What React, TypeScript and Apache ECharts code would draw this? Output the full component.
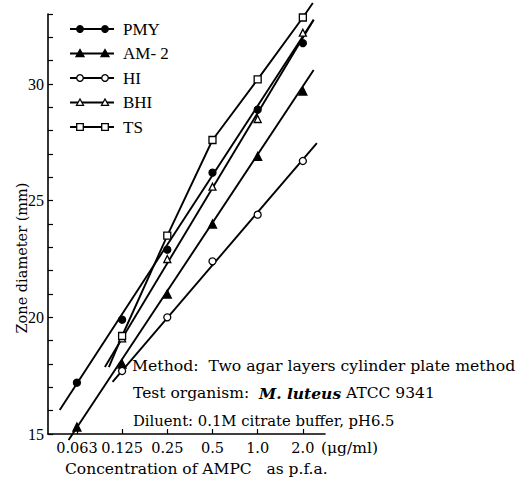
import React, { useEffect, useRef } from "react";
import * as echarts from "echarts";

// ---- data ----
const concentrations = [0.0625, 0.125, 0.25, 0.5, 1, 2];
const tickLabels = ["0.063", "0.125", "0.25", "0.5", "1.0", "2.0"];
const seriesNames = ["PMY", "AM- 2", "HI", "BHI", "TS"];

const pmyValues = [17.2, 19.9, 22.9, 26.2, 28.9, 31.75];
const am2Values = [15.3, 18.0, 21.0, 24.0, 26.9, 29.7];
const hiValues = [null, 17.7, 20.0, 22.4, 24.4, 26.7];
const bhiValues = [null, 19.1, 22.5, 25.6, 28.5, 32.2];
const tsValues = [null, 19.2, 23.5, 27.6, 30.2, 32.85];

// fitted lines: [concentration, zone diameter] end points
const pmyLine = [[0.048, 16.03], [2.36, 32.75]];
const am2Line = [[0.055, 14.74], [2.36, 30.6]];
const hiLine = [[0.108, 17.23], [2.48, 27.47]];
const bhiLine = [[0.096, 17.87], [2.36, 32.75]];
const tsLineEnds = [[0.102, 17.87], [2.33, 33.47]];

const yTickLabels = [15, 20, 25, 30];

// ---- helpers ----
const FONT = "DejaVu Serif";
const lx = (c: number) => Math.log2(c);
const toXY = (pairs: number[][]) => pairs.map(([c, v]) => [lx(c), v]);
const pts = (vals: (number | null)[]) =>
  concentrations
    .map((c, i) => (vals[i] == null ? null : [lx(c), vals[i] as number]))
    .filter((p) => p !== null) as number[][];

const tsLine = [
  [lx(tsLineEnds[0][0]), tsLineEnds[0][1]],
  ...pts(tsValues),
  [lx(tsLineEnds[1][0]), tsLineEnds[1][1]],
];

const styles = [
  { symbol: "circle", size: 7, fill: "#000" },
  { symbol: "triangle", size: 8, fill: "#000" },
  { symbol: "circle", size: 7, fill: "#fff" },
  { symbol: "triangle", size: 7, fill: "#fff" },
  { symbol: "rect", size: 7, fill: "#fff" },
];
const pointSets = [pts(pmyValues), pts(am2Values), pts(hiValues), pts(bhiValues), pts(tsValues)];
const lineSets = [toXY(pmyLine), toXY(am2Line), toXY(hiLine), toXY(bhiLine), tsLine];

function buildOption() {
  const series: any[] = [];
  lineSets.forEach((d, i) => {
    series.push({
      name: seriesNames[i] + " line",
      type: "line",
      data: d,
      showSymbol: false,
      clip: false,
      silent: true,
      lineStyle: { color: "#000", width: 1.9 },
      z: 2,
    });
  });
  pointSets.forEach((d, i) => {
    const s = styles[i];
    series.push({
      name: seriesNames[i],
      type: "scatter",
      data: d,
      symbol: s.symbol,
      symbolSize: s.size,
      itemStyle: { color: s.fill, borderColor: "#000", borderWidth: 1.3, opacity: 1 },
      z: 3,
    });
  });

  // custom legend drawn with graphic elements
  const legendGraphics: any[] = [];
  seriesNames.forEach((name, i) => {
    const y = 29 + i * 24.5;
    const s = styles[i];
    legendGraphics.push({
      type: "line",
      shape: { x1: 70, y1: y, x2: 114, y2: y },
      style: { stroke: "#000", lineWidth: 2 },
    });
    [80, 105].forEach((cx) => {
      const st = { fill: s.fill, stroke: "#000", lineWidth: 1.3 };
      if (s.symbol === "circle") {
        legendGraphics.push({ type: "circle", shape: { cx, cy: y, r: 3.3 }, style: st });
      } else if (s.symbol === "triangle") {
        const h = s.size / 2;
        legendGraphics.push({
          type: "polygon",
          shape: { points: [[cx, y - h], [cx + h, y + h * 0.8], [cx - h, y + h * 0.8]] },
          style: st,
        });
      } else {
        legendGraphics.push({ type: "rect", shape: { x: cx - 3.3, y: y - 3.3, width: 6.6, height: 6.6 }, style: st });
      }
    });
    legendGraphics.push({
      type: "text",
      x: 123,
      y,
      style: { text: name, font: `17px "Liberation Serif"`, fill: "#000", verticalAlign: "middle", align: "left" },
    });
  });

  const textStyle = (text: string, x: number, y: number, size: number, extra: any = {}) => ({
    type: "text",
    x,
    y,
    style: {
      text,
      fontFamily: FONT,
      fontSize: size,
      fill: "#000",
      verticalAlign: "middle",
      align: "left",
      ...extra,
    },
  });

  const graphic = [
    ...legendGraphics,
    {
      type: "text",
      x: 22,
      y: 258,
      rotation: Math.PI / 2,
      style: {
        text: "Zone diameter (mm)",
        fontFamily: FONT,
        fontSize: 14.5,
        fill: "#000",
        align: "center",
        verticalAlign: "middle",
      },
    },
    textStyle("(μg/ml)", 321, 448, 15.5),
    textStyle("Concentration of AMPC   as p.f.a.", 65, 469, 15.5),
    textStyle("Method:  Two agar layers cylinder plate method", 132, 365, 15.7),
    {
      type: "text",
      x: 133,
      y: 393,
      style: {
        text: "Test organism:  {i|M. luteus} ATCC 9341",
        fontFamily: FONT,
        fontSize: 15.5,
        fill: "#000",
        verticalAlign: "middle",
        align: "left",
        rich: {
          i: { fontFamily: FONT, fontSize: 15.5, fontStyle: "italic", fontWeight: "bold", fill: "#000" },
        },
      },
    },
    textStyle("Diluent: 0.1M citrate buffer, pH6.5", 133, 420, 14.8),
  ];

  return {
    animation: false,
    backgroundColor: "#fff",
    grid: { left: 48, top: 14, right: 199, bottom: 47, containLabel: false },
    xAxis: {
      type: "value",
      min: lx(concentrations[0]) - 0.64,
      max: lx(concentrations[concentrations.length - 1]) + 0.49,
      splitLine: { show: false },
      axisLine: { show: true, onZero: false, lineStyle: { color: "#000", width: 1.6 } },
      axisTick: {
        show: true,
        inside: true,
        length: 5,
        lineStyle: { color: "#000", width: 1.2 },
        customValues: concentrations.map(lx),
      },
      axisLabel: {
        show: true,
        customValues: concentrations.map(lx),
        formatter: (v: number) => {
          const idx = concentrations.findIndex((c) => Math.abs(lx(c) - v) < 1e-6);
          return idx >= 0 ? tickLabels[idx] : "";
        },
        color: "#000",
        fontFamily: FONT,
        fontSize: 14.5,
        margin: 6,
      },
    },
    yAxis: {
      type: "value",
      min: 15,
      max: 33,
      interval: 1,
      splitLine: { show: false },
      axisLine: { show: true, onZero: false, lineStyle: { color: "#000", width: 1.6 } },
      axisTick: { show: true, inside: true, length: 5, lineStyle: { color: "#000", width: 1.2 } },
      axisLabel: {
        show: true,
        formatter: (v: number) => (yTickLabels.includes(v) ? String(v) : ""),
        color: "#000",
        fontFamily: "Liberation Serif",
        fontSize: 16,
        margin: 4,
      },
    },
    series,
    graphic,
  };
}

export default function App() {
  const ref = useRef<HTMLDivElement>(null);
  useEffect(() => {
    if (!ref.current) return;
    const chart = echarts.init(ref.current, null, { renderer: "svg" });
    chart.setOption(buildOption() as any);
    return () => chart.dispose();
  }, []);
  return (
    <div
      ref={ref}
      style={{ position: "fixed", left: 0, top: 0, width: 524, height: 481, background: "#fff" }}
    />
  );
}
